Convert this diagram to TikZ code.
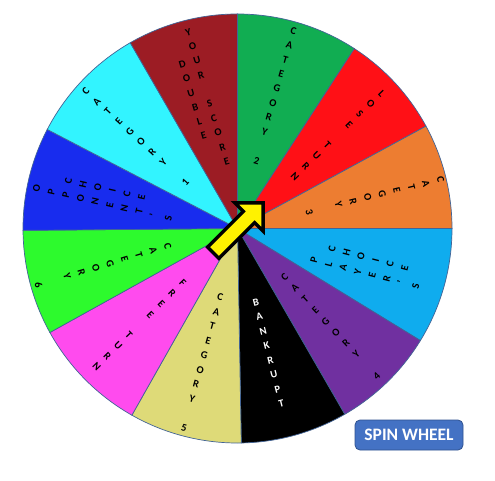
\documentclass[tikz,border=0pt]{standalone}
\usepackage{fontspec}
\setmainfont{Carlito}

\definecolor{wheelgreen}{RGB}{17,173,82}
\definecolor{wheelred}{RGB}{255,16,22}
\definecolor{wheelorange}{RGB}{237,125,49}
\definecolor{wheelsky}{RGB}{15,172,238}
\definecolor{wheelpurple}{RGB}{112,48,160}
\definecolor{wheelkhaki}{RGB}{222,218,120}
\definecolor{wheelpink}{RGB}{255,75,238}
\definecolor{wheellime}{RGB}{45,250,45}
\definecolor{wheelblue}{RGB}{24,44,238}
\definecolor{wheelcyan}{RGB}{50,244,255}
\definecolor{wheelmaroon}{RGB}{156,28,36}
\definecolor{wheelrim}{RGB}{66,100,150}
\definecolor{btnfill}{RGB}{68,114,196}
\definecolor{btnedge}{RGB}{47,82,143}

\newcommand{\wheelfont}{\fontsize{10.5bp}{15bp}\selectfont\bfseries}

\begin{document}
\begin{tikzpicture}[x=1bp, y=1bp,
    sector/.style={draw=wheelrim, line width=0.7bp},
    lbl/.style={font=\wheelfont, align=center, inner sep=0pt},
    spinbtn/.style={draw=btnedge, fill=btnfill, line width=0.8bp, rounded corners=5bp,
        minimum width=108bp, minimum height=30bp, inner sep=0pt, text=white,
        font=\fontsize{17.5bp}{20bp}\selectfont\bfseries}]

    % Frame
    \useasboundingbox[fill=white] (-237.5,-252.5) rectangle (257.5,228.5);

    % Sectors, clockwise from the top
    \filldraw[sector, fill=wheelgreen] (0,0) -- (57:214.5bp) arc[start angle=57, end angle=90, radius=214.5bp] -- cycle;
    \filldraw[sector, fill=wheelred] (0,0) -- (28.5:214.5bp) arc[start angle=28.5, end angle=57, radius=214.5bp] -- cycle;
    \filldraw[sector, fill=wheelorange] (0,0) -- (0:214.5bp) arc[start angle=0, end angle=28.5, radius=214.5bp] -- cycle;
    \filldraw[sector, fill=wheelsky] (0,0) -- (-31.5:214.5bp) arc[start angle=-31.5, end angle=0, radius=214.5bp] -- cycle;
    \filldraw[sector, fill=wheelpurple] (0,0) -- (-60:214.5bp) arc[start angle=-60, end angle=-31.5, radius=214.5bp] -- cycle;
    \filldraw[sector, fill=black] (0,0) -- (-89:214.5bp) arc[start angle=-89, end angle=-60, radius=214.5bp] -- cycle;
    \filldraw[sector, fill=wheelkhaki] (0,0) -- (-119.5:214.5bp) arc[start angle=-119.5, end angle=-89, radius=214.5bp] -- cycle;
    \filldraw[sector, fill=wheelpink] (0,0) -- (-151:214.5bp) arc[start angle=-151, end angle=-119.5, radius=214.5bp] -- cycle;
    \filldraw[sector, fill=wheellime] (0,0) -- (-179.5:214.5bp) arc[start angle=-179.5, end angle=-151, radius=214.5bp] -- cycle;
    \filldraw[sector, fill=wheelblue] (0,0) -- (152.5:214.5bp) arc[start angle=152.5, end angle=180.5, radius=214.5bp] -- cycle;
    \filldraw[sector, fill=wheelcyan] (0,0) -- (120:214.5bp) arc[start angle=120, end angle=152.5, radius=214.5bp] -- cycle;
    \filldraw[sector, fill=wheelmaroon] (0,0) -- (90:214.5bp) arc[start angle=90, end angle=120, radius=214.5bp] -- cycle;

    % Labels, letters stacked along the radius
    \node[lbl, rotate=-15.9] (cat2) at (37.5,132.7) {C\\A\\T\\E\\G\\O\\R\\Y\\~\\2};
    \node[lbl, rotate=-46.1] (loseturn) at (100.8,93.5) {L\\O\\S\\E\\~\\T\\U\\R\\N};
    \node[lbl, rotate=-76.3] (cat3) at (137.5,32.7) {C\\A\\T\\E\\G\\O\\R\\Y\\~\\3};
    \node[lbl, rotate=75.5] (players) at (127.5,-44.9) {P\\L\\A\\Y\\E\\R\\'\\S};
    \node[lbl, rotate=75.5] (playerchoice) at (130.8,-29.8) {C\\H\\O\\I\\C\\E};
    \node[lbl, rotate=43] (cat4) at (93.2,-98.2) {C\\A\\T\\E\\G\\O\\R\\Y\\~\\4};
    \node[lbl, rotate=14, text=white] (bankrupt) at (31,-124.5) {B\\A\\N\\K\\R\\U\\P\\T};
    \node[lbl, rotate=-15.5] (cat5) at (-35.3,-134) {C\\A\\T\\E\\G\\O\\R\\Y\\~\\5};
    \node[lbl, rotate=-45.9] (freeturn) at (-97.8,-96.5) {F\\R\\E\\E\\~\\T\\U\\R\\N};
    \node[lbl, rotate=-73.3] (cat6) at (-134.5,-37.3) {C\\A\\T\\E\\G\\O\\R\\Y\\~\\6};
    \node[lbl, rotate=77.2] (opponents) at (-135,25.2) {O\\P\\P\\O\\N\\E\\N\\T\\'\\S};
    \node[lbl, rotate=77.2] (oppchoice) at (-132.5,39.3) {C\\H\\O\\I\\C\\E};
    \node[lbl, rotate=47.7] (cat1) at (-102,91.8) {C\\A\\T\\E\\G\\O\\R\\Y\\~\\1};
    \node[lbl, rotate=16.5] (double) at (-44.5,128.5) {D\\O\\U\\B\\L\\E};
    \node[lbl, rotate=16.5] (yourscore) at (-30,131.8) {Y\\O\\U\\R\\~\\S\\C\\O\\R\\E};

    % Pointer
    \draw[fill=yellow, line width=3.4bp, line join=miter, rotate=45]
        (-34.3,-8) -- (16.2,-8) -- (16.2,-20) -- (36.2,0) -- (16.2,20) -- (16.2,8) -- (-34.3,8) -- cycle;

    % Button
    \node[spinbtn] (spin) at (171.5,-206.5) {SPIN WHEEL};

\end{tikzpicture}
\end{document}
